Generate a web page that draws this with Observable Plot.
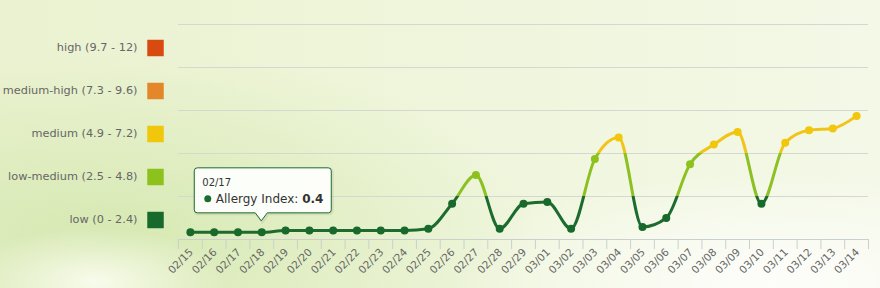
<!DOCTYPE html>
<html><head><meta charset="utf-8">
<script src="https://cdn.jsdelivr.net/npm/d3@7"></script>
<script src="https://cdn.jsdelivr.net/npm/@observablehq/plot@0.6"></script>
<style>
html,body{margin:0;padding:0;}
body{width:880px;height:288px;overflow:hidden;
background:
 radial-gradient(ellipse 130px 55px at 95px 282px, rgba(250,252,238,0.95), rgba(250,252,238,0) 100%),
 radial-gradient(ellipse 430px 190px at 110px 240px, rgba(196,224,150,0.55), rgba(196,224,150,0) 100%),
 radial-gradient(ellipse 320px 110px at 770px 280px, rgba(255,255,255,0.85), rgba(255,255,255,0) 100%),
 linear-gradient(90deg, #ebf2d1 0%, #eef5d9 40%, #f4f8e7 100%);
font-family:"DejaVu Sans",sans-serif;}
#chart svg{background:transparent;}
</style></head><body><div id="chart"></div><script>
const dates = ["02/15","02/16","02/17","02/18","02/19","02/20","02/21","02/22","02/23","02/24","02/25","02/26","02/27","02/28","02/29",
  "03/01","03/02","03/03","03/04","03/05","03/06","03/07","03/08","03/09","03/10","03/11","03/12","03/13","03/14"];
const values = [0.4,0.4,0.4,0.4,0.5,0.5,0.5,0.5,0.5,0.5,0.6,2.0,3.6,0.6,2.0,
  2.1,0.6,4.5,5.7,0.7,1.2,4.2,5.3,6.0,2.0,5.4,6.1,6.2,6.9];
const levelNames = ["low (0 - 2.4)","low-medium (2.5 - 4.8)","medium (4.9 - 7.2)","medium-high (7.3 - 9.6)","high (9.7 - 12)"];
const levelLow = [0, 2.4, 4.8, 7.2, 9.6];
const levelHigh = [2.4, 4.8, 7.2, 9.6, 12];
const levelColors = ["#17692c","#8dc21c","#f1c70c","#e3872a","#d94a10"];
const lineColors = ["#1d6b2f","#8cc023","#f0c41a","#e3872a","#d94a10"];
const tooltipDate = "02/17";
const tooltipAnchor = "02/18";
const tooltipLabel = "Allergy Index: ";
const tooltipValue = 0.4;

const data = dates.map((d, i) => ({date: d, value: values[i]}));
const levels = levelNames.map((n, i) => ({name: n, mid: (levelLow[i] + levelHigh[i]) / 2, color: levelColors[i]}));
const zoneOf = v => { for (let i = 0; i < levelHigh.length; i++) if (v <= levelHigh[i]) return i; return levelHigh.length - 1; };
const axisColor = "#c9d0cf";

function gradientDefs(index, scales) {
  const sy = scales.y;
  const defs = d3.create("svg:defs");
  const g = defs.append("linearGradient").attr("id", "zoneGrad")
    .attr("gradientUnits", "userSpaceOnUse")
    .attr("x1", 0).attr("x2", 0).attr("y1", sy(0)).attr("y2", sy(12));
  levelLow.forEach((lo, i) => {
    g.append("stop").attr("offset", lo / 12).attr("stop-color", lineColors[i]);
    g.append("stop").attr("offset", levelHigh[i] / 12).attr("stop-color", lineColors[i]);
  });
  return defs.node();
}

function bandInfo(sx) {
  return sx(dates[1]) - sx(dates[0]);
}

function boundaryTicks(index, scales, vals, dims) {
  const sx = scales.x;
  const bw = bandInfo(sx);
  const y0 = dims.height - dims.marginBottom;
  const g = d3.create("svg:g").attr("stroke", axisColor).attr("stroke-width", 1);
  const xs = dates.map(d => sx(d)).concat([sx(dates[dates.length - 1]) + bw]);
  for (const x of xs) g.append("line").attr("x1", x + 0.5).attr("x2", x + 0.5).attr("y1", y0).attr("y2", y0 + 10);
  return g.node();
}

function tooltip(index, scales) {
  const sx = scales.x, sy = scales.y;
  const bw = bandInfo(sx);
  const i = dates.indexOf(tooltipAnchor);
  const px = sx(tooltipAnchor) + bw / 2;
  const py = sy(values[i]);
  const tipY = py - 11, B = tipY - 8, T = B - 45, L = px - 67, R = L + 137, r = 3;
  const d = `M${L + r},${T}H${R - r}A${r},${r} 0 0 1 ${R},${T + r}V${B - r}A${r},${r} 0 0 1 ${R - r},${B}H${px + 6}L${px},${tipY}L${px - 6},${B}H${L + r}A${r},${r} 0 0 1 ${L},${B - r}V${T + r}A${r},${r} 0 0 1 ${L + r},${T}Z`;
  const g = d3.create("svg:g").attr("text-anchor", "start");
  g.append("path").attr("d", d).attr("transform", "translate(1,1)").attr("fill", "none").attr("stroke", "rgba(0,0,0,0.07)").attr("stroke-width", 3);
  g.append("path").attr("d", d).attr("fill", "rgba(255,255,255,0.9)").attr("stroke", "#1f6b30").attr("stroke-width", 1);
  g.append("text").attr("x", L + 8).attr("y", T + 18.5).attr("text-anchor", "start").attr("font-size", 10).attr("fill", "#333").text(tooltipDate);
  g.append("circle").attr("cx", L + 13.5).attr("cy", T + 31).attr("r", 3.5).attr("fill", lineColors[zoneOf(tooltipValue)]);
  const t = g.append("text").attr("x", L + 21.5).attr("y", T + 35).attr("text-anchor", "start").attr("font-size", 12).attr("fill", "#333");
  t.append("tspan").text(tooltipLabel);
  t.append("tspan").attr("font-weight", "bold").text(String(tooltipValue));
  return g.node();
}

const chart = Plot.plot({
  width: 880, height: 288,
  marginLeft: 178, marginRight: 12, marginTop: 24, marginBottom: 49,
  style: {background: "transparent", fontFamily: "DejaVu Sans, sans-serif"},
  x: {type: "band", domain: dates, padding: 0, round: false},
  y: {domain: [0, 12], axis: null},
  marks: [
    Plot.gridY(levelHigh, {stroke: "#d5d7d0", strokeOpacity: 1}),
    Plot.ruleY([0], {stroke: axisColor}),
    gradientDefs,
    Plot.line(data, {x: "date", y: "value", curve: "monotone-x", stroke: "url(#zoneGrad)", strokeWidth: 3}),
    Plot.dot(data, {x: "date", y: "value", r: 4, fill: d => levelColors[zoneOf(d.value)], stroke: "none"}),
    boundaryTicks,
    Plot.axisX({tickSize: 0, tickPadding: 11, tickRotate: -45, fontSize: 10.5, fill: "#666", label: null, dx: 1}),
    Plot.text(levels, {y: "mid", text: "name", frameAnchor: "left", dx: -41, dy: 1.5, textAnchor: "end", fill: "#666", fontSize: 11.3}),
    Plot.dot(levels, {y: "mid", frameAnchor: "left", dx: -23, dy: 2, symbol: "square", r: 9.3, fill: "color", stroke: "none"}),
    tooltip
  ]
});
document.getElementById("chart").appendChild(chart);
</script></body></html>
